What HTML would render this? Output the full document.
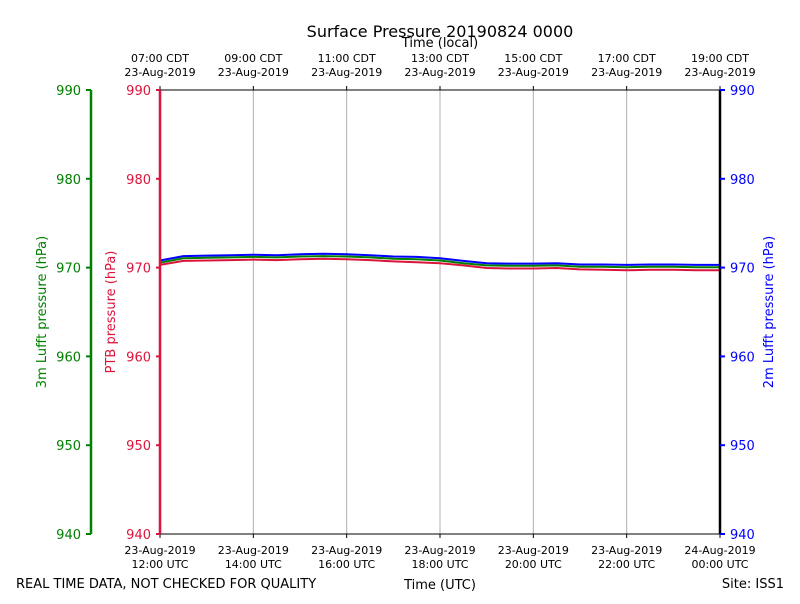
<!DOCTYPE html>
<html><head><meta charset="utf-8"><style>
body{margin:0;background:#fff;font-family:"DejaVu Sans","Liberation Sans",sans-serif}
svg text{font-family:"DejaVu Sans","Liberation Sans",sans-serif}
</style></head><body>
<svg id="c" width="800" height="600" xmlns="http://www.w3.org/2000/svg">
<text x="440" y="37" font-size="16" text-anchor="middle">Surface Pressure 20190824 0000</text>
<text x="440" y="47" font-size="13" text-anchor="middle">Time (local)</text>
<text x="440" y="589" font-size="13" text-anchor="middle">Time (UTC)</text>
<text x="16" y="588" font-size="13">REAL TIME DATA, NOT CHECKED FOR QUALITY</text>
<text x="784" y="588" font-size="13" text-anchor="end">Site: ISS1</text>
<text transform="translate(46,312) rotate(-90)" font-size="13" fill="green" text-anchor="middle">3m Lufft pressure (hPa)</text>
<text transform="translate(115,312) rotate(-90)" font-size="13" fill="crimson" text-anchor="middle">PTB pressure (hPa)</text>
<text transform="translate(773,312) rotate(-90)" font-size="13" fill="blue" text-anchor="middle">2m Lufft pressure (hPa)</text>
<g id="grid"></g><g id="series"></g><g id="axes"></g>
</svg>
<script>
const hours=[12,12.5,13,13.5,14,14.5,15,15.5,16,16.5,17,17.5,18,18.5,19,19.5,20,20.5,21,21.5,22,22.5,23,23.5,24];
const blueVals=[970.8,971.3,971.35,971.4,971.45,971.4,971.5,971.55,971.5,971.4,971.25,971.2,971.05,970.75,970.5,970.45,970.45,970.5,970.35,970.35,970.3,970.35,970.35,970.3,970.3];
const greenVals=[970.55,971.05,971.1,971.15,971.2,971.15,971.25,971.3,971.25,971.15,971.0,970.95,970.8,970.5,970.25,970.2,970.2,970.25,970.1,970.1,970.05,970.1,970.1,970.05,970.05];
const redVals=[970.3,970.75,970.8,970.85,970.9,970.85,970.95,971.0,970.95,970.85,970.7,970.6,970.5,970.25,969.95,969.9,969.9,969.95,969.8,969.75,969.7,969.75,969.75,969.7,969.7];
const yTicks=[940,950,960,970,980,990];
const xTicks=[12,14,16,18,20,22,24];
const utcLabels=[["23-Aug-2019","12:00 UTC"],["23-Aug-2019","14:00 UTC"],["23-Aug-2019","16:00 UTC"],["23-Aug-2019","18:00 UTC"],["23-Aug-2019","20:00 UTC"],["23-Aug-2019","22:00 UTC"],["24-Aug-2019","00:00 UTC"]];
const localLabels=[["07:00 CDT","23-Aug-2019"],["09:00 CDT","23-Aug-2019"],["11:00 CDT","23-Aug-2019"],["13:00 CDT","23-Aug-2019"],["15:00 CDT","23-Aug-2019"],["17:00 CDT","23-Aug-2019"],["19:00 CDT","23-Aug-2019"]];
const NS="http://www.w3.org/2000/svg";
const X0=160,X1=720,Y0=534,Y1=90;
const xs=h=>X0+(h-12)/12*(X1-X0);
const ys=v=>Y0-(v-940)/50*(Y0-Y1);
function mk(t,a,p){const e=document.createElementNS(NS,t);for(const k in a)e.setAttribute(k,a[k]);p.appendChild(e);return e;}
const grid=document.getElementById('grid'),ser=document.getElementById('series'),ax=document.getElementById('axes');
xTicks.forEach((h,i)=>{
 const g=mk('line',{x1:xs(h),x2:xs(h),y1:Y1,y2:Y0,stroke:'#b0b0b0','stroke-width':1},grid);
 
 
 mk('line',{x1:xs(h),x2:xs(h),y1:Y0,y2:Y0+4,stroke:'#000'},ax);
 mk('line',{x1:xs(h),x2:xs(h),y1:Y1,y2:Y1-4,stroke:'#000'},ax);
 utcLabels[i].forEach((s,j)=>{const t=mk('text',{x:xs(h),y:554+j*14,'font-size':11,'text-anchor':'middle'},ax);t.textContent=s;
  
  });
 localLabels[i].forEach((s,j)=>{const t=mk('text',{x:xs(h),y:62+j*14,'font-size':11,'text-anchor':'middle'},ax);t.textContent=s;
  
  });
});
function line(vals,col,name){
 const d=vals.map((v,i)=>(i?'L':'M')+xs(hours[i]).toFixed(1)+','+ys(v).toFixed(1)).join('');
 const p=mk('path',{d:d,fill:'none',stroke:col,'stroke-width':2},ser);
 
 
}
line(redVals,'crimson','ptb-series');line(greenVals,'green','lufft-3m-series');line(blueVals,'blue','lufft-2m-series');
mk('line',{x1:X0,x2:X1,y1:Y1,y2:Y1,stroke:'#000'},ax);
mk('line',{x1:X0,x2:X1,y1:Y0,y2:Y0,stroke:'#000'},ax);
mk('line',{x1:X1,x2:X1,y1:Y1,y2:Y0,stroke:'#000','stroke-width':2.5},ax);
mk('line',{x1:X0,x2:X0,y1:Y1,y2:Y0,stroke:'crimson','stroke-width':2.5},ax);
mk('line',{x1:91,x2:91,y1:Y1,y2:Y0,stroke:'green','stroke-width':2.5},ax);
yTicks.forEach(v=>{
 const y=ys(v);
 mk('line',{x1:91,x2:86,y1:y,y2:y,stroke:'green','stroke-width':2},ax);
 mk('line',{x1:X0,x2:X0-4,y1:y,y2:y,stroke:'crimson','stroke-width':2},ax);
 mk('line',{x1:X1,x2:X1+5,y1:y,y2:y,stroke:'blue','stroke-width':2},ax);
 [[81,'end','green','green-y-tick'],[151,'end','crimson','red-y-tick'],[730,'start','blue','blue-y-tick']].forEach(a=>{
  const t=mk('text',{x:a[0],y:y+5,'font-size':13,'text-anchor':a[1],fill:a[2]},ax);t.textContent=v;
  
  
 });
});
</script>
</body></html>
